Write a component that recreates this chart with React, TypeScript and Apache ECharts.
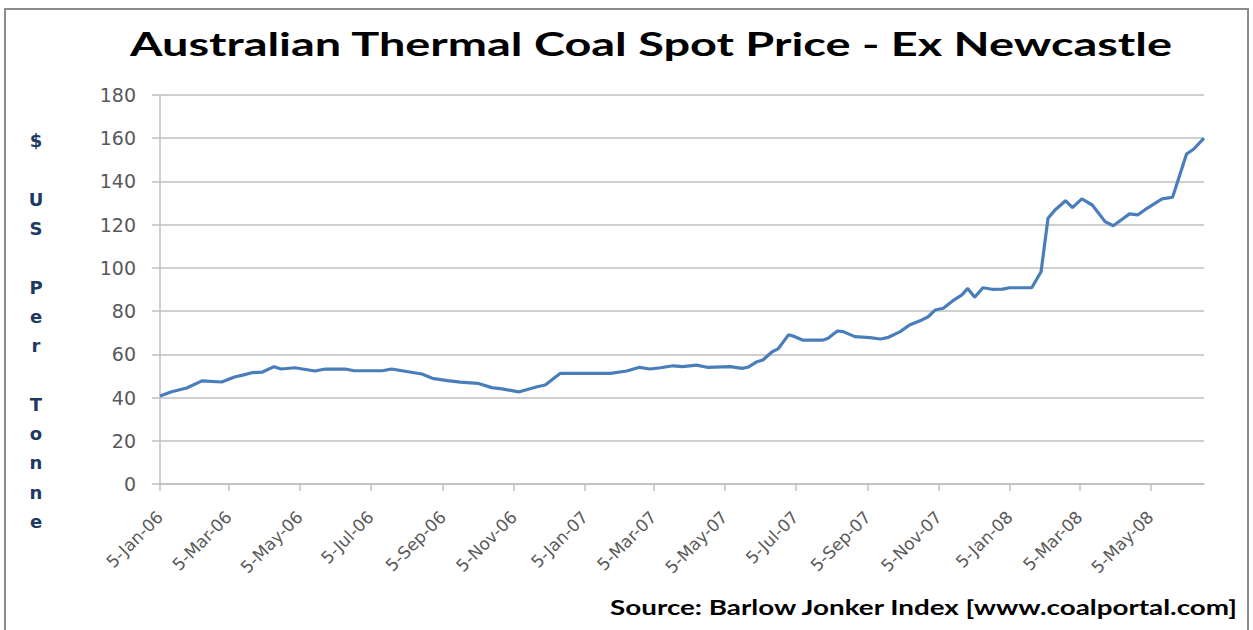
import React, { useEffect, useRef } from "react";
import * as echarts from "echarts";

const dates: string[] = [
  "2006-01-05", "2006-01-15", "2006-01-28", "2006-02-10", "2006-02-27", "2006-03-10",
  "2006-03-17", "2006-03-25", "2006-04-03", "2006-04-13", "2006-04-19", "2006-05-01",
  "2006-05-18", "2006-05-27", "2006-06-13", "2006-06-21", "2006-07-15", "2006-07-23",
  "2006-08-01", "2006-08-18", "2006-08-27", "2006-09-09", "2006-09-20", "2006-10-05",
  "2006-10-17", "2006-10-26", "2006-11-09", "2006-11-25", "2006-12-02", "2006-12-15",
  "2007-01-27", "2007-02-10", "2007-02-21", "2007-03-02", "2007-03-11", "2007-03-22",
  "2007-03-30", "2007-04-11", "2007-04-20", "2007-05-10", "2007-05-20", "2007-05-25",
  "2007-06-02", "2007-06-07", "2007-06-15", "2007-06-20", "2007-06-29", "2007-07-03",
  "2007-07-11", "2007-07-29", "2007-08-02", "2007-08-10", "2007-08-15", "2007-08-25",
  "2007-09-07", "2007-09-16", "2007-09-22", "2007-10-03", "2007-10-11", "2007-10-20",
  "2007-10-27", "2007-11-02", "2007-11-09", "2007-11-17", "2007-11-25", "2007-11-30",
  "2007-12-06", "2007-12-13", "2007-12-21", "2007-12-30", "2008-01-05", "2008-01-24",
  "2008-02-01", "2008-02-07", "2008-02-13", "2008-02-22", "2008-02-28", "2008-03-07",
  "2008-03-16", "2008-03-27", "2008-04-03", "2008-04-11", "2008-04-17", "2008-04-24",
  "2008-04-30", "2008-05-15", "2008-05-24", "2008-06-05", "2008-06-11", "2008-06-20",
];

const prices: number[] = [
  40.7, 42.7, 44.4, 47.7, 47.2, 49.5,
  50.4, 51.5, 51.8, 54.3, 53.2, 53.8,
  52.3, 53.2, 53.2, 52.4, 52.4, 53.2,
  52.4, 50.9, 48.9, 47.8, 47.1, 46.6,
  44.6, 44.0, 42.6, 45.0, 45.8, 51.2,
  51.2, 52.3, 54.0, 53.2, 53.8, 54.7,
  54.3, 55.0, 54.0, 54.3, 53.5, 54.0,
  56.6, 57.4, 61.2, 62.5, 69.0, 68.5,
  66.6, 66.6, 67.4, 70.8, 70.5, 68.2,
  67.7, 67.1, 67.7, 70.5, 73.6, 75.5,
  77.4, 80.5, 81.3, 84.7, 87.5, 90.5,
  86.4, 90.8, 90.1, 90.2, 90.8, 90.8,
  98.2, 123.0, 126.8, 131.1, 127.9, 131.9,
  129.1, 121.4, 119.5, 122.6, 125.0, 124.5,
  126.8, 131.9, 132.7, 152.7, 154.9, 160.0,
];

const tickDates: string[] = [
  "2006-01-05", "2006-03-05", "2006-05-05", "2006-07-05", "2006-09-05", "2006-11-05",
  "2007-01-05", "2007-03-05", "2007-05-05", "2007-07-05", "2007-09-05", "2007-11-05",
  "2008-01-05", "2008-03-05", "2008-05-05",
];

const axisStart = "2006-01-05";
const axisEnd = "2008-06-20";

const titleText = "Australian Thermal Coal Spot Price - Ex Newcastle";
const yNameLines: string[] = ["$", "", "U", "S", "", "P", "e", "r", "", "T", "o", "n", "n", "e"];
const sourceText = "Source: Barlow Jonker Index [www.coalportal.com]";

const MONTHS = ["Jan", "Feb", "Mar", "Apr", "May", "Jun", "Jul", "Aug", "Sep", "Oct", "Nov", "Dec"];

function ts(s: string): number {
  const [y, m, d] = s.split("-").map(Number);
  return new Date(y, m - 1, d).getTime();
}

function fmt(v: number): string {
  const d = new Date(v);
  return `${d.getDate()}-${MONTHS[d.getMonth()]}-${String(d.getFullYear() % 100).padStart(2, "0")}`;
}

export default function App() {
  const ref = useRef<HTMLDivElement>(null);
  useEffect(() => {
    if (!ref.current) return;
    const chart = echarts.init(ref.current, undefined, { renderer: "svg" });
    const tickTs = tickDates.map(ts);
    const axisColor = "#bfbfbf";
    chart.setOption({
      animation: false,
      backgroundColor: "#ffffff",
      grid: { left: 160, right: 49, top: 95, bottom: 146, containLabel: false, outerBoundsMode: "none" },
      xAxis: {
        type: "value",
        min: ts(axisStart),
        max: ts(axisEnd),
        scale: true,
        axisLine: { show: true, lineStyle: { color: axisColor, width: 1.5 } },
        axisTick: { show: true, customValues: tickTs, length: 7, lineStyle: { color: axisColor, width: 1.5 } },
        axisLabel: {
          customValues: tickTs,
          rotate: 45,
          formatter: (v: number) => fmt(v),
          fontFamily: "DejaVu Sans",
          fontSize: 17,
          color: "#595959",
          margin: 30,
          hideOverlap: false,
          showMinLabel: true,
          showMaxLabel: true,
        },
        splitLine: { show: false },
      },
      yAxis: {
        type: "value",
        min: 0,
        max: 180,
        interval: 20,
        axisLine: { show: true, lineStyle: { color: axisColor, width: 1.5 } },
        axisTick: { show: true, length: 8, lineStyle: { color: axisColor, width: 1.5 } },
        axisLabel: { fontFamily: "DejaVu Sans", fontSize: 19, color: "#595959", margin: 24 },
        splitLine: { show: true, lineStyle: { color: axisColor, width: 1.5 } },
      },
      series: [
        {
          type: "line",
          data: dates.map((d, i) => [ts(d), prices[i]]),
          showSymbol: false,
          symbol: "none",
          lineStyle: { color: "#4a7ebb", width: 3.2 },
          itemStyle: { color: "#4a7ebb" },
        },
      ],
      graphic: [
        {
          type: "rect",
          shape: { x: 5, y: 9, width: 1243, height: 640 },
          style: { fill: "none", stroke: "#8c8c8c", lineWidth: 2 },
          silent: true,
        },
        {
          type: "text",
          x: 651,
          y: 44,
          scaleX: 1.465,
          style: {
            text: titleText,
            fontFamily: "Lato",
            fontWeight: "bold",
            fontSize: 32,
            fill: "#000000",
            align: "center",
            verticalAlign: "middle",
          },
        },
        {
          type: "text",
          x: 36,
          y: 126,
          style: {
            text: yNameLines.join("\n"),
            fontFamily: "DejaVu Sans",
            fontWeight: "bold",
            fontSize: 18,
            lineHeight: 29.3,
            fill: "#1f3a60",
            align: "center",
            verticalAlign: "top",
          },
        },
        {
          type: "text",
          x: 1237,
          y: 607,
          scaleX: 1.39,
          style: {
            text: sourceText,
            fontFamily: "Lato",
            fontWeight: "bold",
            fontSize: 20,
            fill: "#000000",
            align: "right",
            verticalAlign: "middle",
          },
        },
      ],
    });
    return () => chart.dispose();
  }, []);
  return (
    <div
      ref={ref}
      style={{ position: "fixed", left: 0, top: 0, width: 1253, height: 630, background: "#ffffff" }}
    />
  );
}
